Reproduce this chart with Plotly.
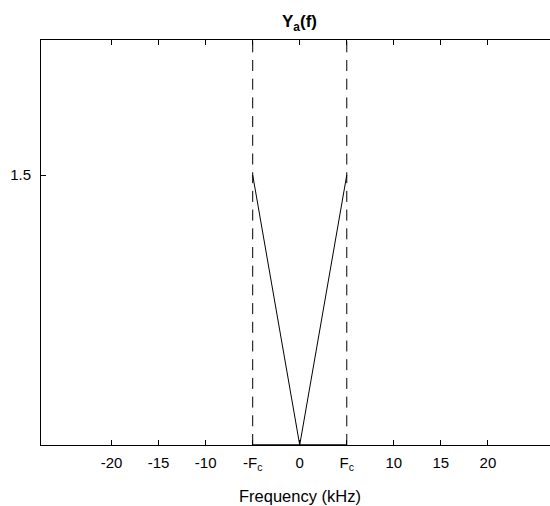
import plotly.graph_objects as go

Fc = 5
peak = 1.5
y_top = 2.25
x_range = [-27.5, 26.6]
tick_vals = [-20, -15, -10, -Fc, 0, Fc, 10, 15, 20]
tick_text = ["-20", "-15", "-10", "-F<sub>c</sub>", "0", "F<sub>c</sub>", "10", "15", "20"]
tri_x = [-Fc, 0, Fc]
tri_y = [peak, 0, peak]
base_x = [-Fc, Fc]
base_y = [0, 0]

fig = go.Figure()
fig.add_trace(go.Scatter(x=tri_x, y=tri_y, mode="lines", line=dict(color="black", width=1)))
fig.add_trace(go.Scatter(x=base_x, y=base_y, mode="lines", line=dict(color="black", width=1.5)))
for xv in [-Fc, Fc]:
    fig.add_trace(go.Scatter(x=[xv, xv], y=[0, y_top], mode="lines",
                             line=dict(color="black", width=1, dash="11px,7.7px")))

fam = "Liberation Sans, Arial, sans-serif"
font = dict(family=fam, size=15, color="black")
fig.update_layout(
    width=550, height=506,
    margin=dict(l=41, r=0, t=40, b=61),
    paper_bgcolor="white", plot_bgcolor="white",
    showlegend=False,
    font=font,
    xaxis=dict(range=x_range, tickvals=tick_vals, ticktext=tick_text,
               ticks="inside", ticklen=5, tickcolor="black", showline=True,
               linecolor="black", linewidth=1, mirror="ticks", showgrid=False,
               zeroline=False, tickfont=font, ticklabelstandoff=4),
    yaxis=dict(range=[0, y_top], tickvals=[peak], ticktext=["1.5"],
               ticks="inside", ticklen=5, tickcolor="black", showline=True,
               linecolor="black", linewidth=1, mirror=False, showgrid=False,
               zeroline=False, tickfont=font, ticklabelstandoff=6),
    annotations=[
        dict(x=0, y=1, xref="x", yref="paper", yanchor="bottom", yshift=4,
             text="<b>Y<sub>a</sub>(f)</b>", showarrow=False,
             font=dict(family=fam, size=17, color="black")),
        dict(x=0, y=0, xref="x", yref="paper", yanchor="top", yshift=-40,
             text="Frequency (kHz)", showarrow=False,
             font=dict(family=fam, size=16.5, color="black")),
    ],
)
fig.write_html("out.html")
